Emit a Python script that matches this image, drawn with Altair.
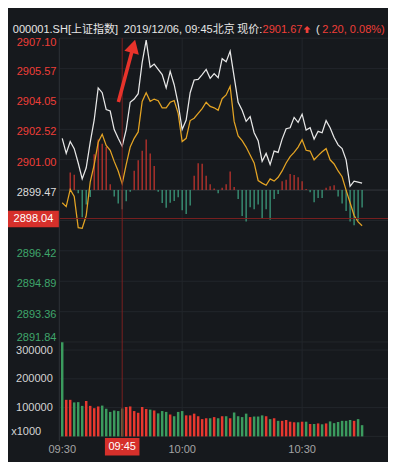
import altair as alt
import numpy as np
import pandas as pd

# ---------------- data ----------------
minutes = list(range(76))  # minutes after 09:30
price = [2902.07, 2901.31, 2901.91, 2901.55, 2900.83, 2900.03, 2900.59, 2901.87, 2902.99, 2904.60,
         2904.36, 2903.51, 2903.44, 2902.51, 2902.07, 2901.67, 2902.51, 2903.88, 2904.04, 2904.31,
         2905.88, 2907.00, 2905.64, 2905.80, 2905.53, 2905.27, 2904.60, 2905.43, 2904.76, 2903.80,
         2902.51, 2902.99, 2904.36, 2905.00, 2905.03, 2905.27, 2905.53, 2905.08, 2905.32, 2905.11,
         2906.07, 2905.91, 2906.44, 2905.16, 2903.88, 2903.48, 2902.92, 2903.16, 2902.35, 2901.95,
         2900.91, 2901.31, 2900.75, 2901.43, 2901.36, 2902.03, 2902.55, 2902.60, 2903.12, 2902.87,
         2903.28, 2902.48, 2902.60, 2902.03, 2902.42, 2902.35, 2902.96, 2902.60, 2902.11, 2901.74,
         2901.55, 2900.99, 2899.66, 2899.92, 2899.87, 2899.82]
lead = [2898.83, 2898.64, 2899.50, 2899.15, 2897.58, 2897.55, 2898.19, 2899.87, 2900.75, 2901.87,
        2902.27, 2901.71, 2901.47, 2900.91, 2900.43, 2899.79, 2900.75, 2901.63, 2902.07, 2902.39,
        2903.92, 2904.36, 2903.93, 2904.04, 2903.96, 2903.60, 2903.60, 2903.88, 2903.96, 2903.32,
        2901.91, 2902.07, 2902.96, 2903.08, 2903.32, 2903.56, 2903.88, 2903.67, 2903.60, 2903.48,
        2904.06, 2904.25, 2904.68, 2902.92, 2902.19, 2901.95, 2901.63, 2901.23, 2900.83, 2899.95,
        2899.82, 2899.71, 2900.03, 2899.92, 2900.11, 2900.43, 2900.83, 2901.15, 2901.36, 2901.63,
        2902.00, 2901.47, 2901.43, 2900.99, 2901.20, 2901.39, 2901.55, 2900.99, 2900.78, 2900.43,
        2900.14, 2899.47, 2898.83, 2898.19, 2897.87, 2897.68]
strength = [0, 0, 18.3, 16, -3.3, -28.3, -15, -7.3, 37.3, 52.7,
            48.3, 45, 6, -6.7, -14, -20, -11.7, -1.7, 20, 31,
            41, 52.7, 38, 25, -1.7, -13.5, -18.5, -13.3, -11.5, -7.5,
            -21, -25, -16, 15, 28, 27.3, 15, 6, 1.7, -3.3,
            2.3, 6, 19.3, 3.3, -9.3, -27, -32.7, -18, -20, -15,
            -29, -20, -31, -9.3, -4, 9.3, 10.7, 16.7, 15.7, 13.3,
            9.3, 1, -2.3, -12.7, -8.3, -8.3, 2.3, 4, 5, -6.7,
            -14, -21.7, -32.7, -36.7, -31.7, -18.3]
volume = [327000, 127000, 127000, 118000, 119000, 106000, 123000, 106000, 98000, 104000,
          107000, 96000, 85000, 90000, 88000, 97000, 102000, 104000, 88000, 82000,
          102000, 95000, 93000, 90000, 80000, 88000, 85000, 76000, 70000, 85000,
          88000, 73000, 73000, 79000, 70000, 60000, 63000, 63000, 67000, 63000,
          70000, 70000, 63000, 83000, 70000, 67000, 79000, 67000, 69000, 69000,
          73000, 70000, 60000, 63000, 54000, 54000, 57000, 51000, 49000, 49000,
          51000, 51000, 43000, 43000, 45000, 42000, 45000, 52000, 46000, 50000,
          54000, 54000, 57000, 54000, 60000, 39000]
vol_dir = (list("duuddduuuu") + list("dddddduuuu") + list("uududddudd") + list("duuuuuudud")
           + list("ududdddudd") + list("dududuuuud") + list("ududududdd") + list("dddudd"))

prev_close = 2899.47
price_ticks = [2907.10, 2905.57, 2904.05, 2902.52, 2901.00, 2899.47,
               2897.94, 2896.42, 2894.89, 2893.36, 2891.84]
vol_ticks = [300000, 200000, 100000]
vol_grid = [0, 100000, 200000, 300000]
time_ticks = [0, 30, 60]
time_labels = ["09:30", "10:00", "10:30"]
cursor_minute = 15
cursor_label = "09:45"
cursor_price = 2898.04

hdr_code = "000001.SH[上证指数]"
hdr_time = "2019/12/06, 09:45北京"
hdr_now = "现价:"
hdr_price = "2901.67"
hdr_change = "2.20, 0.08%)"

# ---------------- tables ----------------
df = pd.DataFrame({"m": minutes, "price": price, "lead": lead, "s": strength,
                   "vol": volume, "dir": vol_dir})
df["zero"] = 0
df["sside"] = np.where(df["s"] >= 0, "u", "d")
df.loc[df["m"] == cursor_minute, "sside"] = "sel"
df.loc[df["m"] == cursor_minute, "dir"] = "sel"

grid_df = pd.DataFrame({"p": price_ticks})
grid_df["kind"] = np.where(np.isclose(grid_df["p"], prev_close), "base", "grid")
grid_df["t"] = [f"{v:.2f}" for v in price_ticks]
grid_df["side"] = np.where(np.isclose(grid_df["p"], prev_close), "flat",
                           np.where(grid_df["p"] > prev_close, "up", "down"))
# the label hidden under the cursor-price box is not drawn
label_df = grid_df[np.abs(grid_df["p"] - cursor_price) > 0.5].reset_index(drop=True)

vgrid_df = pd.DataFrame({"v": vol_grid})
vlab_df = pd.DataFrame({"v": vol_ticks, "t": [str(v) for v in vol_ticks]})
tgrid_df = pd.DataFrame({"m": [t for t in time_ticks if t > 0]})
tlab_df = pd.DataFrame({"m": time_ticks, "t": time_labels})
cur_df = pd.DataFrame({"m": [cursor_minute], "p": [cursor_price],
                       "lab": [cursor_label], "plab": [f"{cursor_price:.2f}"]})

# ---------------- scales ----------------
xs = alt.Scale(domain=[0, 60], range=[56.5, 306.5], zero=False, nice=False)
ps = alt.Scale(domain=[2891.84, 2907.10], range=[338.3, 21.7], zero=False, nice=False)
vs = alt.Scale(domain=[0, 300000], range=[436.7, 346.7], zero=False, nice=False)
hs = alt.Scale(domain=[-100, 100], range=[280, 80], zero=False, nice=False)

FONT = "Liberation Sans, Noto Sans CJK SC"
BG = "#16191d"
RED_T = "#ef3e38"
GREEN_T = "#3fa56b"
WHITE_T = "#e6e6e6"


def X(field="m"):
    return alt.X(f"{field}:Q", scale=xs, axis=None)


def one(text):
    return alt.Chart(pd.DataFrame({"t": [text]}))


layers = []

# grid
layers.append(alt.Chart(grid_df).mark_rule(strokeWidth=1).encode(
    y=alt.Y("p:Q", scale=ps, axis=None), x=alt.value(54), x2=alt.value(396),
    color=alt.Color("kind:N", scale=alt.Scale(domain=["grid", "base"], range=["#23272c", "#363a40"]),
                    legend=None)))
layers.append(alt.Chart(vgrid_df).mark_rule(strokeWidth=1, color="#23272c").encode(
    y=alt.Y("v:Q", scale=vs, axis=None), x=alt.value(54), x2=alt.value(396)))
layers.append(alt.Chart(tgrid_df).mark_rule(strokeWidth=1, color="#23272c").encode(
    x=X(), y=alt.value(21.7), y2=alt.value(441.5)))
layers.append(alt.Chart(tgrid_df).mark_rule(strokeWidth=1, color="#2a2e33").encode(
    x=alt.value(53.5), y=alt.value(21.7), y2=alt.value(441.5)))

# buy/sell strength histogram
layers.append(alt.Chart(df).mark_rule(strokeWidth=1.3).encode(
    x=X(), y=alt.Y("zero:Q", scale=hs, axis=None), y2=alt.Y2("s:Q"),
    color=alt.Color("sside:N", scale=alt.Scale(domain=["u", "d", "sel"],
                                               range=["#c4352e", "#3d9e7f", "#6f7a6a"]), legend=None)))

# lines
layers.append(alt.Chart(df).mark_line(color="#e4a424", strokeWidth=1.3).encode(
    x=X(), y=alt.Y("lead:Q", scale=ps, axis=None)))
layers.append(alt.Chart(df).mark_line(color="#e8e8e8", strokeWidth=1.3).encode(
    x=X(), y=alt.Y("price:Q", scale=ps, axis=None)))

# volume
layers.append(alt.Chart(df).mark_rule(strokeWidth=2.6).encode(
    x=X(), y=alt.Y("zero:Q", scale=vs, axis=None), y2=alt.Y2("vol:Q"),
    color=alt.Color("dir:N", scale=alt.Scale(domain=["u", "d", "sel"],
                                             range=["#e8382f", "#3b9b5e", "#6a7048"]), legend=None)))

# crosshair
layers.append(alt.Chart(cur_df).mark_rule(color="#7d2020", strokeWidth=1).encode(
    x=X(), y=alt.value(21.7), y2=alt.value(437)))
layers.append(alt.Chart(cur_df).mark_rule(color="#7d2020", strokeWidth=1).encode(
    y=alt.Y("p:Q", scale=ps, axis=None), x=alt.value(54), x2=alt.value(396)))

# price labels
side_color = alt.Color("side:N", scale=alt.Scale(domain=["up", "flat", "down"],
                                                 range=[RED_T, "#dcdcdc", GREEN_T]), legend=None)
n = len(label_df)
for sub, dy in [(label_df.iloc[[0]], 5.6), (label_df.iloc[1:n - 1], 3.2), (label_df.iloc[[n - 1]], -4.2)]:
    layers.append(alt.Chart(sub).mark_text(align="right", baseline="middle", fontSize=11.5,
                                           font=FONT, dy=dy).encode(
        x=alt.value(50.5), y=alt.Y("p:Q", scale=ps, axis=None), text="t:N", color=side_color))

# cursor price box
layers.append(alt.Chart(cur_df).mark_rect(color="#d6302b", yOffset=-8, y2Offset=9).encode(
    x=alt.value(0), x2=alt.value(53), y=alt.Y("p:Q", scale=ps, axis=None), y2=alt.Y2("p:Q")))
layers.append(alt.Chart(cur_df).mark_text(color="white", fontSize=11.5, font=FONT,
                                          baseline="middle", dy=0.8).encode(
    x=alt.value(26.5), y=alt.Y("p:Q", scale=ps, axis=None), text="plab:N"))

# volume labels
layers.append(alt.Chart(vlab_df).mark_text(align="right", baseline="middle", fontSize=11.5,
                                           font=FONT, color="#d4d4d4", dy=0.8).encode(
    x=alt.value(46.7), y=alt.Y("v:Q", scale=vs, axis=None), text="t:N"))
layers.append(one("x1000").mark_text(align="left", baseline="middle", fontSize=11.5,
                                     font=FONT, color="#d4d4d4").encode(
    x=alt.value(3.3), y=alt.value(432.2), text="t:N"))

# time labels
layers.append(alt.Chart(tlab_df).mark_text(baseline="middle", fontSize=11.5, font=FONT,
                                           color="#a4a4a4").encode(
    x=X(), y=alt.value(450.7), text="t:N"))
layers.append(alt.Chart(cur_df).mark_rect(color="#d6302b", xOffset=-18, x2Offset=18).encode(
    x=X(), x2=alt.X2("m:Q"), y=alt.value(438.3), y2=alt.value(456.7)))
layers.append(alt.Chart(cur_df).mark_text(baseline="middle", fontSize=11.5, font=FONT,
                                          color="white").encode(
    x=X(), y=alt.value(447.8), text="lab:N"))

# header
for txt, x0, col in [(hdr_code, 5, WHITE_T), (hdr_time, 120.7, WHITE_T), (hdr_now, 239, WHITE_T),
                     (hdr_price, 265.3, RED_T), ("(", 321, WHITE_T), (hdr_change, 327.5, RED_T)]:
    layers.append(one(txt).mark_text(align="left", baseline="middle", fontSize=11.5,
                                     font=FONT, color=col).encode(
        x=alt.value(x0), y=alt.value(13.2), text="t:N"))
layers.append(one("up").mark_point(
    shape="M0,-1 L1,0 L0.4,0 L0.4,1 L-0.4,1 L-0.4,0 L-1,0 Z", size=52, filled=True,
    opacity=1, color=RED_T, strokeWidth=0).encode(x=alt.value(311.7), y=alt.value(12.7)))

# annotation arrow
layers.append(one("arrow").mark_point(
    shape="M0,-1 L0.232,-0.58 L0.055,-0.58 L0.055,1 L-0.055,1 L-0.055,-0.58 L-0.232,-0.58 Z",
    size=4529, angle=15, filled=True, opacity=1, color="#e8332b", strokeWidth=0).encode(
    x=alt.value(123.75), y=alt.value(55.8)))

chart = alt.layer(*layers).resolve_scale(
    x="independent", y="independent", color="independent"
).properties(
    width=396, height=462, padding=0,
    autosize=alt.AutoSizeParams(type="none"),
    background=BG,
    usermeta={"embedOptions": {"defaultStyle": "body{margin:0;background:#16191d;overflow:hidden}"}},
).configure_view(strokeWidth=0)

chart.save("out.html", embed_options={"renderer": "svg", "actions": False})
